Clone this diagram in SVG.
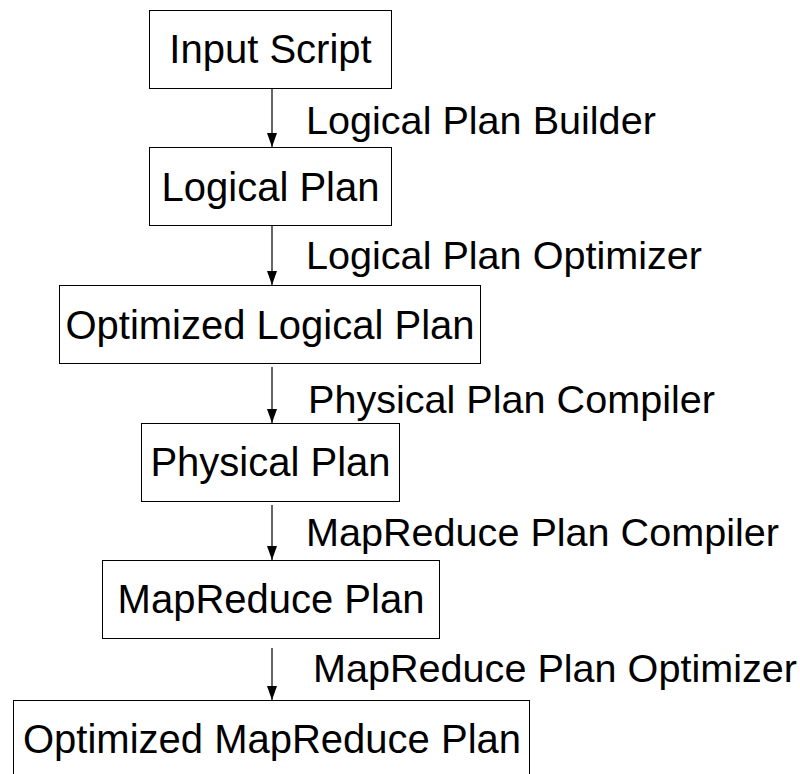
<svg xmlns="http://www.w3.org/2000/svg" width="800" height="774" viewBox="0 0 800 774">
  <defs>
    <marker id="arrow" markerWidth="14" markerHeight="10" refX="14" refY="5" orient="auto" markerUnits="userSpaceOnUse">
      <path d="M0,0 L14,5 L0,10 Z" fill="#000"/>
    </marker>
    <style>
      .box { fill: #fff; stroke: #000; stroke-width: 1; }
      .name { font-family: "Liberation Sans", Arial, sans-serif; font-size: 40px; fill: #000; text-anchor: middle; }
      .step { font-family: "Liberation Sans", Arial, sans-serif; font-size: 39.6px; fill: #000; }
      .link { stroke: #000; stroke-width: 1.2; fill: none; }
    </style>
  </defs>
  <rect width="800" height="774" fill="#fff"/>

  <!-- connectors with their step labels -->
  <g id="connectors">
    <path class="link" d="M272,88 V147" marker-end="url(#arrow)"/>
    <path class="link" d="M272,226 V285" marker-end="url(#arrow)"/>
    <path class="link" d="M272,367 V423" marker-end="url(#arrow)"/>
    <path class="link" d="M272,505 V560" marker-end="url(#arrow)"/>
    <path class="link" d="M272,648 V700" marker-end="url(#arrow)"/>
    <text class="step" x="306" y="134">Logical Plan Builder</text>
    <text class="step" x="306" y="269">Logical Plan Optimizer</text>
    <text class="step" x="308" y="413">Physical Plan Compiler</text>
    <text class="step" x="306" y="546">MapReduce Plan Compiler</text>
    <text class="step" x="313" y="682">MapReduce Plan Optimizer</text>
  </g>

  <g id="input-script">
    <rect class="box" x="149.5" y="10.5" width="242" height="78"/>
    <text class="name" x="270.5" y="63">Input Script</text>
  </g>
  <g id="logical-plan">
    <rect class="box" x="149.5" y="147.5" width="242" height="78"/>
    <text class="name" x="270.5" y="201">Logical Plan</text>
  </g>
  <g id="optimized-logical-plan">
    <rect class="box" x="59.5" y="285.5" width="421" height="78"/>
    <text class="name" x="270" y="339">Optimized Logical Plan</text>
  </g>
  <g id="physical-plan">
    <rect class="box" x="141.5" y="423.5" width="258" height="78"/>
    <text class="name" x="270.5" y="476">Physical Plan</text>
  </g>
  <g id="mapreduce-plan">
    <rect class="box" x="102.5" y="560.5" width="337" height="78"/>
    <text class="name" x="271" y="613">MapReduce Plan</text>
  </g>
  <g id="optimized-mapreduce-plan">
    <rect class="box" x="13.5" y="700.5" width="516" height="80"/>
    <text class="name" x="272" y="753">Optimized MapReduce Plan</text>
  </g>
</svg>
